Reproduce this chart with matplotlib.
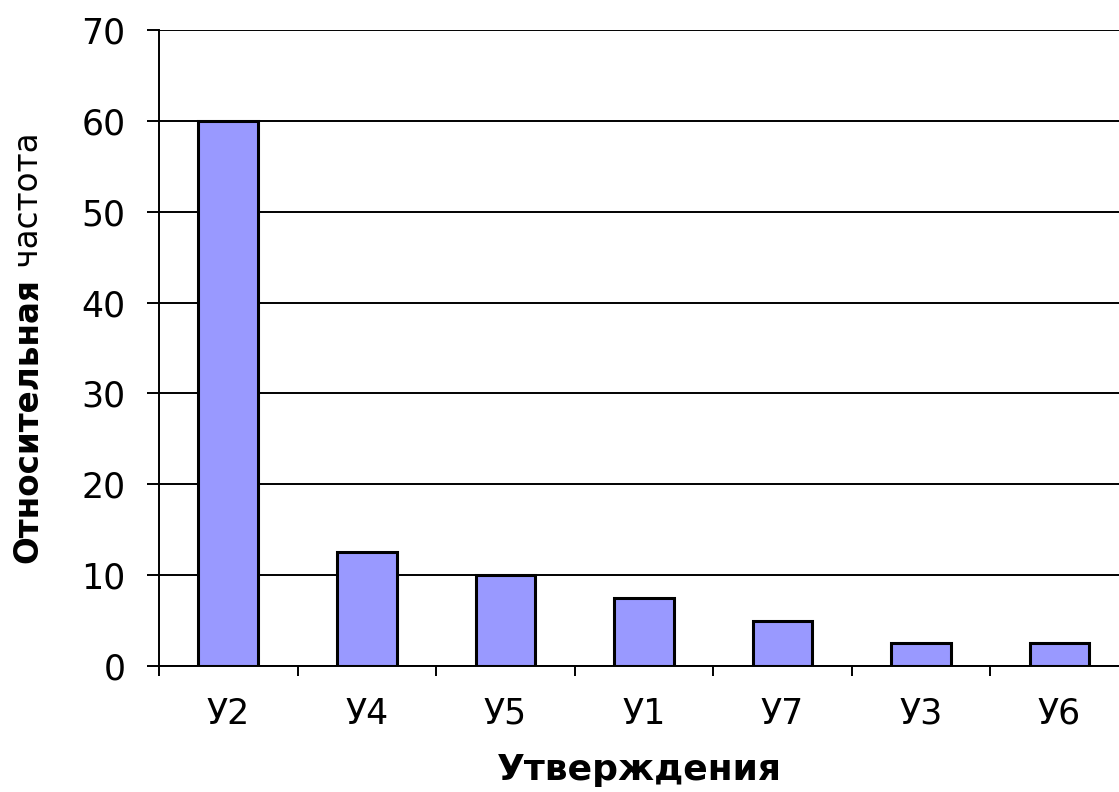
import matplotlib
matplotlib.use('Agg')
import matplotlib.pyplot as plt
import numpy as np

plt.rcParams['font.family'] = ['DejaVu Sans']

categories = ['У2', 'У4', 'У5', 'У1', 'У7', 'У3', 'У6']
values = [60, 12.5, 10, 7.5, 5, 2.5, 2.5]

fig = plt.figure(figsize=(11.19, 7.92), dpi=100)
ax = fig.add_axes([159/1119, 1 - 666/792, 1 - 159/1119, (666 - 30)/792])

x = np.arange(len(categories))
ax.bar(x, values, width=0.43, color='#9999ff', edgecolor='black', linewidth=2.2, zorder=3)

ax.set_ylim(0, 70)
ax.set_xlim(-0.5, 6.43)
ax.set_yticks(np.arange(0, 71, 10))
ax.yaxis.grid(True, color='black', linewidth=1.4, zorder=0)
ax.set_axisbelow(True)

ax.set_xticks(x)
ax.set_xticklabels(categories)
ax.set_xticks(np.arange(-0.5, 6, 1), minor=True)
ax.tick_params(axis='x', which='major', length=0, pad=22, labelsize=25)
ax.tick_params(axis='x', which='minor', length=7, width=1.4, direction='out')
ax.tick_params(axis='y', length=9, width=1.4, pad=15, labelsize=25)

for s in ['top', 'right']:
    ax.spines[s].set_visible(False)
ax.spines['left'].set_linewidth(1.4)
ax.spines['bottom'].set_linewidth(1.4)

ax.set_xlabel('Утверждения', fontsize=26, fontweight='bold', labelpad=16)

# y label: bold part + normal part
t1 = fig.text(28/1119, 1 - 563/792, 'Относительная', rotation=90, fontsize=23.5,
              fontweight='bold', ha='center', va='bottom')
ax.annotate(' частота', xy=(0.5, 1.0), xycoords=t1, rotation=90, fontsize=23.5,
            ha='center', va='bottom')

fig.savefig('out.png', dpi=100)
